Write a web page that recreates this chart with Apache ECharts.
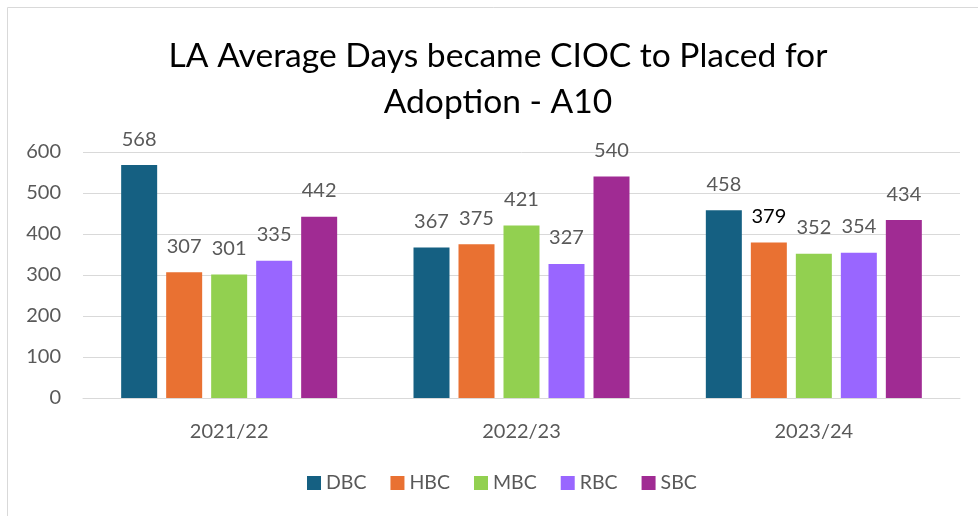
<!DOCTYPE html>
<html lang="en">
<head>
    <meta charset="UTF-8">
    <title>LA Average Days became CIOC to Placed for Adoption - A10</title>
    <style>
        body {
            margin: 0;
            background-color: #fff;
        }

        #chart {
            width: 978px;
            height: 516px;
        }
    </style>
</head>
<body>

    <div id="chart"></div>

    <script src="https://cdn.jsdelivr.net/npm/echarts@6/dist/echarts.min.js"></script>
    <script>

        // categories (years)
        const years = ['2021/22', '2022/23', '2023/24'];

        // series values per council
        const dbc = [568, 367, 458];
        const hbc = [307, 375, 379];
        const mbc = [301, 421, 352];
        const rbc = [335, 327, 354];
        const sbc = [442, 540, 434];

        const seriesNames = ['DBC', 'HBC', 'MBC', 'RBC', 'SBC'];
        const seriesData = [dbc, hbc, mbc, rbc, sbc];
        const colors = ['#156082', '#E97132', '#92D050', '#9966FF', '#A02B93'];

        const textGray = '#595959';
        const font = 'Lato';

        const chart = echarts.init(document.getElementById('chart'));

        const option = {
            color: colors,
            textStyle: {
                fontFamily: font,
            },
            graphic: [
                {
                    type: 'rect',
                    shape: { x: 7.5, y: 7.5, width: 1000, height: 1000 },
                    style: { fill: 'none', stroke: '#d9d9d9', lineWidth: 1 },
                    silent: true,
                },
            ],
            title: {
                text: 'LA Average Days became CIOC to Placed for\nAdoption - A10',
                left: 493,
                textAlign: 'center',
                top: 28,
                textStyle: {
                    fontFamily: font,
                    fontWeight: 'normal',
                    fontSize: 33.6,
                    lineHeight: 46,
                    color: '#000',
                },
            },
            legend: {
                bottom: 18,
                left: 302,
                itemWidth: 14,
                itemHeight: 14,
                itemGap: 24,
                icon: 'rect',
                textStyle: {
                    color: textGray,
                    fontSize: 19.5,
                    fontFamily: font,
                },
            },
            grid: {
                left: 83,
                right: 18,
                top: 152,
                bottom: 118,
                containLabel: false,
            },
            xAxis: {
                type: 'category',
                data: years,
                axisTick: { show: false },
                axisLine: {
                    show: true,
                    lineStyle: { color: '#d9d9d9', width: 1 },
                },
                axisLabel: {
                    color: textGray,
                    fontSize: 20,
                    margin: 24,
                },
            },
            yAxis: {
                type: 'value',
                min: 0,
                max: 600,
                interval: 100,
                axisLine: { show: false },
                axisTick: { show: false },
                axisLabel: {
                    color: textGray,
                    fontSize: 20,
                    margin: 22,
                },
                splitLine: {
                    lineStyle: { color: '#d9d9d9', width: 1 },
                },
            },
            series: seriesNames.map((name, i) => ({
                name: name,
                type: 'bar',
                barWidth: 36,
                barGap: '25%',
                data: seriesData[i].map((v, j) => {
                    // the 2023/24 HBC label is darker in the original
                    if (name === 'HBC' && j === 2) {
                        return { value: v, label: { color: '#000' } };
                    }
                    return v;
                }),
                label: {
                    show: true,
                    position: 'top',
                    distance: 16,
                    color: textGray,
                    fontSize: 20,
                    fontFamily: font,
                },
            })),
        };

        chart.setOption(option);

    </script>
</body>
</html>
